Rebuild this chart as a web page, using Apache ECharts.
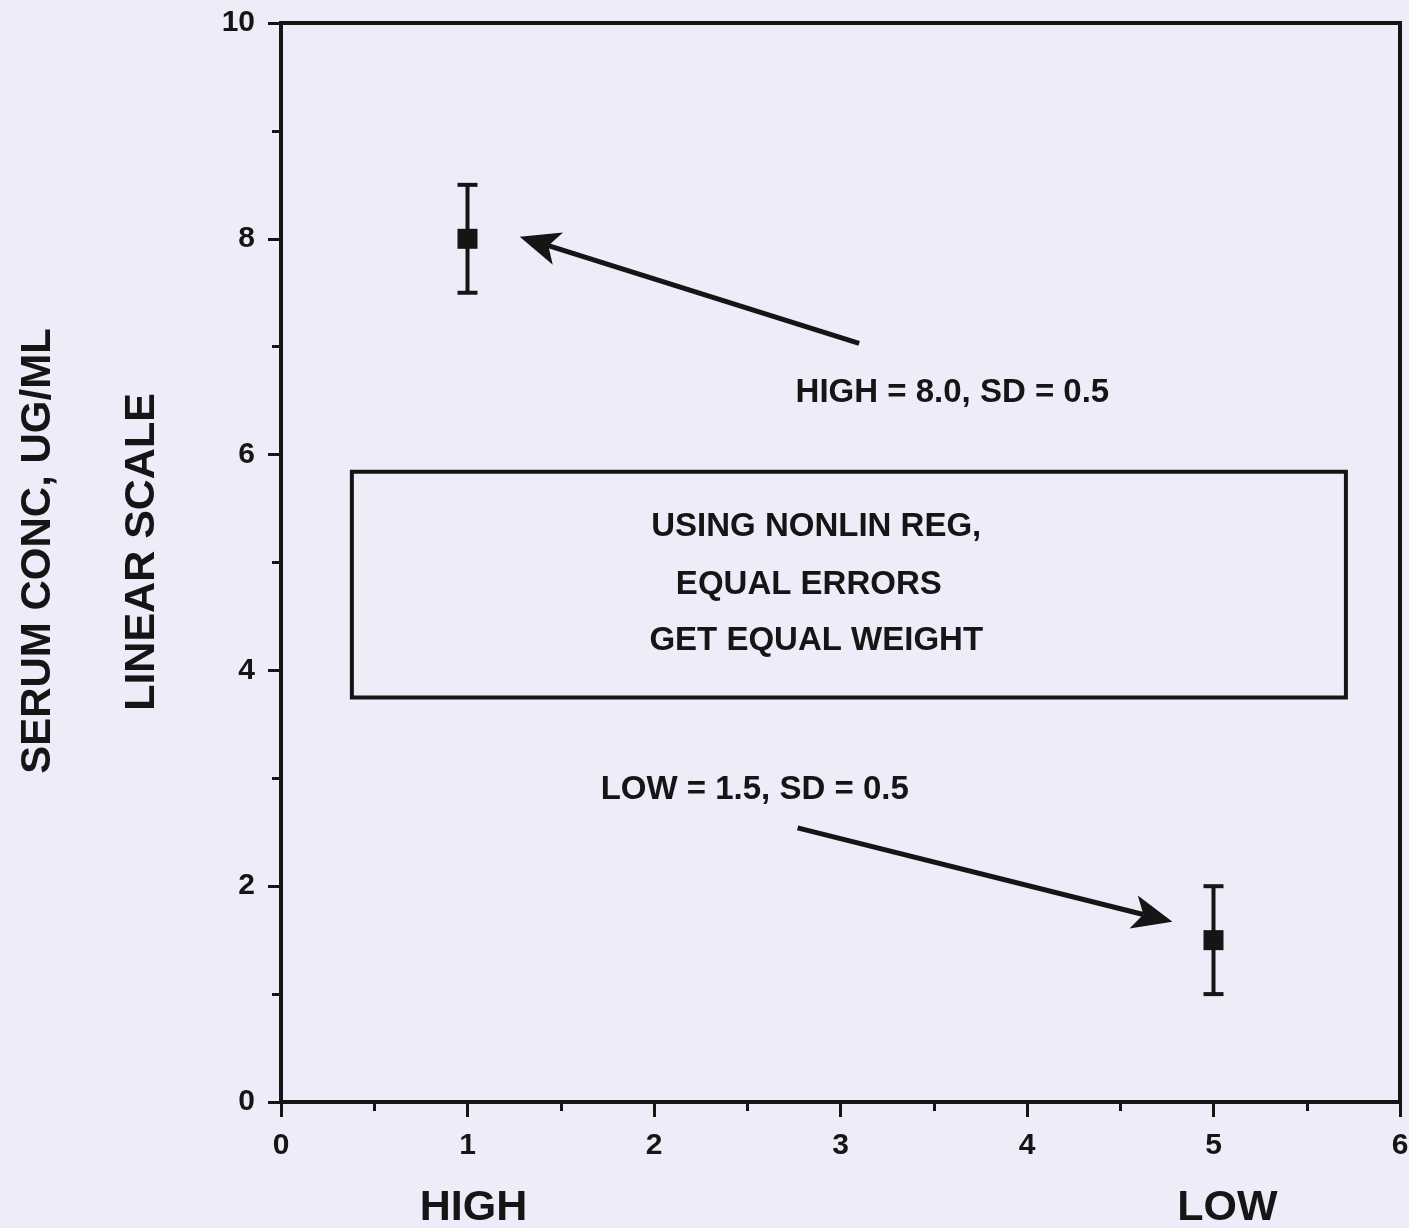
<!DOCTYPE html>
<html>
<head>
<meta charset="utf-8">
<script src="https://cdn.jsdelivr.net/npm/echarts@6/dist/echarts.min.js"></script>
<style>
  html, body { margin: 0; padding: 0; background: #ECEDF8; }
  #chart { width: 1409px; height: 1228px; }
</style>
</head>
<body>
<div id="chart"></div>
<script>
// ---- data ----
const categories = ['HIGH', 'LOW'];
const xPositions = [1, 5];
const means = [8.0, 1.5];
const sds = [0.5, 0.5];

const xTickValues = [0, 1, 2, 3, 4, 5, 6];
const yTickValues = [0, 2, 4, 6, 8, 10];

const yTitleLines = ['SERUM CONC, UG/ML', 'LINEAR SCALE'];
const noteLines = ['USING NONLIN REG,', 'EQUAL ERRORS', 'GET EQUAL WEIGHT'];
const noteLineY = [5.33, 4.79, 4.27];
const noteCenterX = [2.87, 2.83, 2.87];
const noteBox = [0.38, 5.84, 5.71, 3.75];

const calloutTexts = ['HIGH = 8.0, SD = 0.5', 'LOW = 1.5, SD = 0.5'];
const calloutX = [3.60, 2.54];
const calloutY = [6.57, 2.89];
const arrowFrom = [[3.10, 7.03], [2.77, 2.54]];
const arrowTo = [[1.28, 8.02], [4.78, 1.67]];

// ---- chart ----
const INK = '#151515';
const FONT = '"Liberation Sans", Arial, Helvetica, sans-serif';
const chart = echarts.init(document.getElementById('chart'), null, { renderer: 'canvas' });

const points = xPositions.map((x, i) => [x, means[i]]);
const errBars = xPositions.map((x, i) => [x, means[i] - sds[i], means[i] + sds[i]]);
const arrows = arrowFrom.map((f, i) => [f[0], f[1], arrowTo[i][0], arrowTo[i][1]]);
const texts = noteLines.map((t, i) => [noteCenterX[i], noteLineY[i], i]);
const callouts = calloutTexts.map((t, i) => [calloutX[i], calloutY[i], i]);

const option = {
  backgroundColor: '#ECEDF8',
  animation: false,
  textStyle: { fontFamily: FONT },
  grid: {
    left: 281, right: 9, top: 23, bottom: 126,
    show: true, borderColor: INK, borderWidth: 4, backgroundColor: 'transparent',
    containLabel: false, outerBoundsMode: 'none'
  },
  graphic: [
    { type: 'text', x: 38, y: 551, rotation: Math.PI / 2,
      style: { text: yTitleLines[0], fill: INK, font: 'bold 42px ' + FONT, align: 'center', verticalAlign: 'middle' } },
    { type: 'text', x: 142, y: 552, rotation: Math.PI / 2,
      style: { text: yTitleLines[1], fill: INK, font: 'bold 43px ' + FONT, align: 'center', verticalAlign: 'middle' } }
  ],
  xAxis: {
    type: 'value', min: 0, max: 6, interval: 1,
    axisLine: { show: true, onZero: false, lineStyle: { color: INK, width: 4 } },
    axisTick: { show: true, length: 15, lineStyle: { color: INK, width: 3 } },
    minorTick: { show: true, splitNumber: 2, length: 9, lineStyle: { color: INK, width: 3 } },
    splitLine: { show: false },
    minorSplitLine: { show: false },
    axisLabel: {
      show: true, margin: 28, color: INK, fontSize: 30, fontWeight: 'bold', lineHeight: 32,
      showMinLabel: true, showMaxLabel: true,
      formatter: function (v) {
        const i = xPositions.indexOf(v);
        return i >= 0 ? v + '\n{c' + i + '|' + categories[i] + '}' : String(v);
      },
      rich: {
        c0: { fontSize: 43, fontWeight: 'bold', color: INK, lineHeight: 92, fontFamily: FONT, padding: [0, 0, 0, 12] },
        c1: { fontSize: 43, fontWeight: 'bold', color: INK, lineHeight: 92, fontFamily: FONT, padding: [0, 0, 0, 28] }
      }
    }
  },
  yAxis: {
    type: 'value', min: 0, max: 10, interval: 2,
    axisLine: { show: true, onZero: false, lineStyle: { color: INK, width: 4 } },
    axisTick: { show: true, length: 13, lineStyle: { color: INK, width: 3 } },
    minorTick: { show: true, splitNumber: 2, length: 9, lineStyle: { color: INK, width: 3 } },
    splitLine: { show: false },
    minorSplitLine: { show: false },
    axisLabel: { show: true, margin: 26, color: INK, fontSize: 30, fontWeight: 'bold', showMinLabel: true, showMaxLabel: true }
  },
  series: [
    {
      name: 'errorbars', type: 'custom', coordinateSystem: 'cartesian2d',
      data: errBars, encode: { x: 0, y: [1, 2] }, z: 3,
      renderItem: function (params, api) {
        const x = api.value(0);
        const lo = api.coord([x, api.value(1)]);
        const hi = api.coord([x, api.value(2)]);
        const cw = 10;
        const st = { stroke: INK, lineWidth: 4 };
        return { type: 'group', children: [
          { type: 'line', shape: { x1: lo[0], y1: lo[1], x2: hi[0], y2: hi[1] }, style: st },
          { type: 'line', shape: { x1: lo[0] - cw, y1: lo[1], x2: lo[0] + cw, y2: lo[1] }, style: st },
          { type: 'line', shape: { x1: hi[0] - cw, y1: hi[1], x2: hi[0] + cw, y2: hi[1] }, style: st }
        ] };
      }
    },
    {
      name: 'means', type: 'scatter', data: points, symbol: 'rect', symbolSize: 20, z: 4,
      itemStyle: { color: INK, opacity: 1 }
    },
    {
      name: 'notebox', type: 'custom', coordinateSystem: 'cartesian2d', data: [noteBox],
      encode: { x: [0, 2], y: [1, 3] }, z: 2,
      renderItem: function (params, api) {
        const a = api.coord([api.value(0), api.value(1)]);
        const b = api.coord([api.value(2), api.value(3)]);
        return { type: 'rect', shape: { x: a[0], y: a[1], width: b[0] - a[0], height: b[1] - a[1] },
          style: { fill: 'none', stroke: INK, lineWidth: 4 } };
      }
    },
    {
      name: 'notes', type: 'custom', coordinateSystem: 'cartesian2d', data: texts,
      encode: { x: 0, y: 1 }, z: 5,
      renderItem: function (params, api) {
        const p = api.coord([api.value(0), api.value(1)]);
        return { type: 'text', x: p[0], y: p[1],
          style: { text: noteLines[api.value(2)], fill: INK, font: 'bold 33px ' + FONT, align: 'center', verticalAlign: 'middle' } };
      }
    },
    {
      name: 'callouts', type: 'custom', coordinateSystem: 'cartesian2d', data: callouts,
      encode: { x: 0, y: 1 }, z: 5,
      renderItem: function (params, api) {
        const p = api.coord([api.value(0), api.value(1)]);
        return { type: 'text', x: p[0], y: p[1],
          style: { text: calloutTexts[api.value(2)], fill: INK, font: 'bold 33px ' + FONT, align: 'center', verticalAlign: 'middle' } };
      }
    },
    {
      name: 'arrows', type: 'custom', coordinateSystem: 'cartesian2d', data: arrows,
      encode: { x: [0, 2], y: [1, 3] }, z: 5,
      renderItem: function (params, api) {
        const a = api.coord([api.value(0), api.value(1)]);
        const b = api.coord([api.value(2), api.value(3)]);
        const dx = b[0] - a[0], dy = b[1] - a[1];
        const len = Math.sqrt(dx * dx + dy * dy);
        const ux = dx / len, uy = dy / len;
        const nx = -uy, ny = ux;
        const L = 40, W = 17, N = 30;
        const base = [b[0] - ux * L, b[1] - uy * L];
        const notch = [b[0] - ux * N, b[1] - uy * N];
        return { type: 'group', children: [
          { type: 'line', shape: { x1: a[0], y1: a[1], x2: notch[0], y2: notch[1] },
            style: { stroke: INK, lineWidth: 5 } },
          { type: 'polygon', shape: { points: [
              b,
              [base[0] + nx * W, base[1] + ny * W],
              notch,
              [base[0] - nx * W, base[1] - ny * W]
            ] }, style: { fill: INK } }
        ] };
      }
    }
  ]
};
chart.setOption(option);
</script>
</body>
</html>
